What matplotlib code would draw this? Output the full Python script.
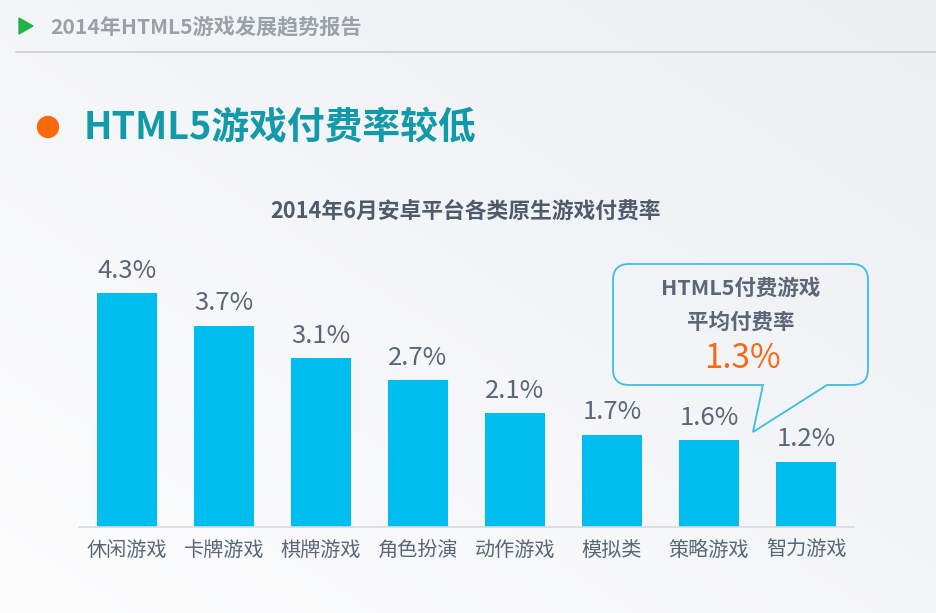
import numpy as np
import matplotlib.pyplot as plt
from matplotlib.path import Path
from matplotlib.patches import PathPatch, Circle, Polygon

plt.rcParams['font.family'] = ['Noto Sans CJK SC', 'DejaVu Sans']

categories = ["休闲游戏", "卡牌游戏", "棋牌游戏", "角色扮演", "动作游戏", "模拟类", "策略游戏", "智力游戏"]
pay_rates = [4.3, 3.7, 3.1, 2.7, 2.1, 1.7, 1.6, 1.2]
h5_avg = 1.3

W, H = 937, 613
fig = plt.figure(figsize=(W / 100, H / 100), dpi=100)

# background gradient
bg = fig.add_axes([0, 0, 1, 1])
grad = np.linspace(0, 1, 256)
gx, gy = np.meshgrid(grad, grad)
g = 0.5 * gx + 0.5 * (1 - gy)
bg.imshow(g, cmap=plt.cm.colors.LinearSegmentedColormap.from_list("bgc", ["#fdfdfe", "#eceef2"]),
          extent=[0, W, H, 0], aspect="auto")
bg.set_xlim(0, W)
bg.set_ylim(H, 0)
bg.axis("off")

# header
bg.add_patch(Polygon([[19, 18], [19, 34], [33, 26]], closed=True, color="#1fb34a"))
bg.text(50, 27, "2014年HTML5游戏发展趋势报告", fontsize=15.2, fontweight="bold",
        color="#9ba1a9", va="center", ha="left")
bg.plot([16, W], [52, 52], color="#c9ccd1", lw=1.2)

# slide title
bg.add_patch(Circle((48, 127), 10.5, color="#f96a0e"))
bg.text(84, 127, "HTML5游戏付费率较低", fontsize=27.2, fontweight="bold",
        color="#139aaa", va="center", ha="left")

# chart title
bg.text(466, 212, "2014年6月安卓平台各类原生游戏付费率", fontsize=15.7, fontweight="bold",
        color="#4d5b6c", va="center", ha="center")

# bar chart
ax = fig.add_axes([78.5 / W, (H - 527) / H, 776 / W, 272 / H])
ax.patch.set_alpha(0)
x = np.arange(len(categories))
ax.bar(x, pay_rates, width=0.62, color="#00bdf0")
for xi, v in zip(x, pay_rates):
    ax.text(xi, v + 0.17, f"{v}%", ha="center", va="bottom", fontsize=18.5, color="#5a6778")
ax.set_xlim(-0.5, 7.5)
ax.set_ylim(0, 5)
ax.set_xticks(x)
ax.set_xticklabels(categories, fontsize=14.5, color="#5a6778")
ax.tick_params(axis="x", length=0, pad=9)
ax.set_yticks([])
for s in ["top", "right", "left"]:
    ax.spines[s].set_visible(False)
ax.spines["bottom"].set_color("#d6dbe0")
ax.spines["bottom"].set_linewidth(1.2)

# callout bubble
l, r, t, b, rad = 613, 868, 264, 385, 16
verts = [
    (763, b), (753, 432), (827, b),
    (r - rad, b), (r, b), (r, b - rad),
    (r, t + rad), (r, t), (r - rad, t),
    (l + rad, t), (l, t), (l, t + rad),
    (l, b - rad), (l, b), (l + rad, b),
    (763, b),
]
codes = [Path.MOVETO, Path.LINETO, Path.LINETO,
         Path.LINETO, Path.CURVE3, Path.CURVE3,
         Path.LINETO, Path.CURVE3, Path.CURVE3,
         Path.LINETO, Path.CURVE3, Path.CURVE3,
         Path.LINETO, Path.CURVE3, Path.CURVE3,
         Path.CLOSEPOLY]
bg.add_patch(PathPatch(Path(verts, codes), facecolor="none", edgecolor="#3dbde0", lw=1.3))
bg.text(741, 288, "HTML5付费游戏", fontsize=15.5, fontweight="bold", color="#5a6778",
        ha="center", va="center")
bg.text(741, 322, "平均付费率", fontsize=15.5, fontweight="bold", color="#5a6778",
        ha="center", va="center")
bg.text(742, 359, f"{h5_avg}%", fontsize=24, fontweight="medium", color="#f26a1b",
        ha="center", va="center")

plt.savefig("out.png", dpi=100)
